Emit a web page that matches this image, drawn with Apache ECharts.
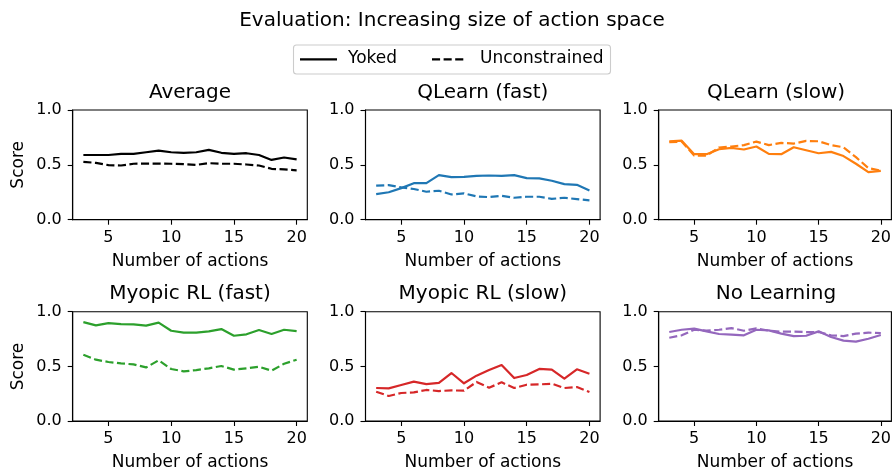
<!DOCTYPE html>
<html>
<head>
<meta charset="utf-8">
<script src="https://cdn.jsdelivr.net/npm/echarts@6/dist/echarts.min.js"></script>
<style>
html,body{margin:0;padding:0;background:#fff;}
#chart{width:894px;height:472px;}
</style>
</head>
<body>
<div id="chart"></div>
<script>
// ---- Data ----
const numActions = [3,4,5,6,7,8,9,10,11,12,13,14,15,16,17,18,19,20];
const xTicks = [5,10,15,20];
const yTicks = [0,0.5,1.0];

const panelTitles = ['Average','QLearn (fast)','QLearn (slow)','Myopic RL (fast)','Myopic RL (slow)','No Learning'];
const legendNames = ['Yoked','Unconstrained'];

const averageYoked = [0.59,0.59,0.59,0.60,0.60,0.615,0.63,0.615,0.61,0.615,0.636,0.61,0.60,0.606,0.59,0.545,0.567,0.55];
const averageUnconstrained = [0.527,0.518,0.497,0.494,0.51,0.512,0.512,0.51,0.506,0.50,0.515,0.51,0.51,0.503,0.494,0.464,0.458,0.45];

const qlearnFastYoked = [0.233,0.25,0.288,0.333,0.333,0.406,0.388,0.39,0.40,0.403,0.40,0.406,0.379,0.376,0.355,0.324,0.318,0.267];
const qlearnFastUnconstrained = [0.31,0.315,0.294,0.28,0.255,0.264,0.23,0.24,0.212,0.206,0.218,0.20,0.209,0.209,0.19,0.20,0.188,0.176];

const qlearnSlowYoked = [0.715,0.72,0.597,0.597,0.642,0.655,0.64,0.667,0.60,0.597,0.66,0.633,0.606,0.618,0.58,0.51,0.433,0.445];
const qlearnSlowUnconstrained = [0.706,0.712,0.585,0.585,0.658,0.667,0.68,0.712,0.68,0.70,0.694,0.718,0.715,0.68,0.66,0.57,0.47,0.448];

const myopicFastYoked = [0.905,0.875,0.896,0.887,0.884,0.872,0.90,0.826,0.808,0.808,0.82,0.841,0.78,0.793,0.832,0.796,0.835,0.823];
const myopicFastUnconstrained = [0.607,0.561,0.54,0.527,0.518,0.49,0.555,0.476,0.454,0.466,0.482,0.503,0.47,0.482,0.497,0.46,0.524,0.561];

const myopicSlowYoked = [0.302,0.299,0.329,0.36,0.338,0.348,0.439,0.345,0.415,0.466,0.512,0.393,0.421,0.476,0.47,0.387,0.473,0.433];
const myopicSlowUnconstrained = [0.268,0.229,0.256,0.262,0.284,0.274,0.28,0.277,0.357,0.305,0.354,0.302,0.332,0.335,0.341,0.302,0.311,0.265];

const noLearningYoked = [0.814,0.835,0.845,0.82,0.796,0.79,0.784,0.835,0.829,0.80,0.777,0.78,0.82,0.768,0.735,0.726,0.753,0.787];
const noLearningUnconstrained = [0.762,0.784,0.835,0.826,0.835,0.85,0.826,0.848,0.826,0.817,0.817,0.814,0.814,0.784,0.777,0.80,0.808,0.805];

const panelData = [
  [averageYoked, averageUnconstrained],
  [qlearnFastYoked, qlearnFastUnconstrained],
  [qlearnSlowYoked, qlearnSlowUnconstrained],
  [myopicFastYoked, myopicFastUnconstrained],
  [myopicSlowYoked, myopicSlowUnconstrained],
  [noLearningYoked, noLearningUnconstrained]
];

// ---- Styling / layout ----
const colors = ['#000000','#1f77b4','#ff7f0e','#2ca02c','#d62728','#9467bd'];
const FONT = 'DejaVu Sans';
const colLeft = [72.7, 365.5, 658.7];
const rowTop = [110, 311.7];
const gW = 234.6, gH = 109.7;
const LW = 2.2;
const DASH = [8.1, 3.5];

const grids = [], xAxes = [], yAxes = [], series = [], graphics = [];

for (let i = 0; i < 6; i++) {
  const r = Math.floor(i / 3), c = i % 3;
  grids.push({left: colLeft[c], top: rowTop[r], width: gW, height: gH,
    show: true, borderColor: '#000', borderWidth: 1.1, backgroundColor: 'transparent'});
  xAxes.push({
    type: 'value', gridIndex: i, min: 2.15, max: 20.85,
    name: 'Number of actions', nameLocation: 'middle', nameGap: 33,
    nameTextStyle: {fontFamily: FONT, fontSize: 17, color: '#000'},
    axisLine: {show: true, onZero: false, lineStyle: {color: '#000', width: 1.1}},
    axisTick: {show: true, customValues: xTicks, length: 5, lineStyle: {color: '#000', width: 1.1}},
    axisLabel: {show: true, customValues: xTicks, margin: 10, fontFamily: FONT, fontSize: 16, color: '#000'},
    splitLine: {show: false}
  });
  yAxes.push({
    type: 'value', gridIndex: i, min: 0, max: 1, interval: 0.5,
    axisLine: {show: true, lineStyle: {color: '#000', width: 1.1}},
    axisTick: {show: true, length: 5, lineStyle: {color: '#000', width: 1.1}},
    axisLabel: {show: true, margin: 11, fontFamily: FONT, fontSize: 16, color: '#000',
      formatter: v => v.toFixed(1)},
    splitLine: {show: false}
  });
  panelData[i].forEach((vals, k) => {
    series.push({
      type: 'line', name: legendNames[k], xAxisIndex: i, yAxisIndex: i,
      data: numActions.map((x, j) => [x, vals[j]]),
      showSymbol: false, symbol: 'none', silent: true,
      lineStyle: {color: colors[i], width: LW, type: k === 0 ? 'solid' : DASH, cap: 'butt', join: 'round'},
      itemStyle: {color: colors[i]},
      z: k === 0 ? 3 : 2
    });
  });
  graphics.push({
    type: 'text', x: colLeft[c] + gW / 2, y: rowTop[r] - 17.5,
    style: {text: panelTitles[i], fontFamily: FONT, fontSize: 20, fill: '#000',
      textAlign: 'center', textVerticalAlign: 'middle'}
  });
  if (c === 0) {
    graphics.push({
      type: 'text', x: 18.5, y: rowTop[r] + gH / 2, rotation: Math.PI / 2,
      style: {text: 'Score', fontFamily: FONT, fontSize: 17, fill: '#000',
        textAlign: 'center', textVerticalAlign: 'middle'}
    });
  }
}

// suptitle
graphics.push({
  type: 'text', x: 452, y: 21,
  style: {text: 'Evaluation: Increasing size of action space', fontFamily: FONT, fontSize: 20, fill: '#000',
    textAlign: 'center', textVerticalAlign: 'middle'}
});
// legend box
graphics.push({
  type: 'rect', shape: {x: 293.5, y: 45, width: 317, height: 29, r: 3},
  style: {fill: '#fff', stroke: '#cccccc', lineWidth: 1.1}
});
graphics.push({type: 'line', shape: {x1: 300, y1: 59.3, x2: 337, y2: 59.3},
  style: {stroke: '#000', lineWidth: LW}});
graphics.push({type: 'text', x: 348, y: 59,
  style: {text: legendNames[0], fontFamily: FONT, fontSize: 17, fill: '#000', textAlign: 'left', textVerticalAlign: 'middle'}});
graphics.push({type: 'line', shape: {x1: 432, y1: 59.3, x2: 466, y2: 59.3},
  style: {stroke: '#000', lineWidth: LW, lineDash: DASH}});
graphics.push({type: 'text', x: 480, y: 59,
  style: {text: legendNames[1], fontFamily: FONT, fontSize: 17, fill: '#000', textAlign: 'left', textVerticalAlign: 'middle'}});

const chart = echarts.init(document.getElementById('chart'), null, {renderer: 'canvas'});
chart.setOption({
  animation: false,
  backgroundColor: '#fff',
  textStyle: {fontFamily: FONT},
  grid: grids, xAxis: xAxes, yAxis: yAxes, series: series,
  graphic: graphics
});
</script>
</body>
</html>
